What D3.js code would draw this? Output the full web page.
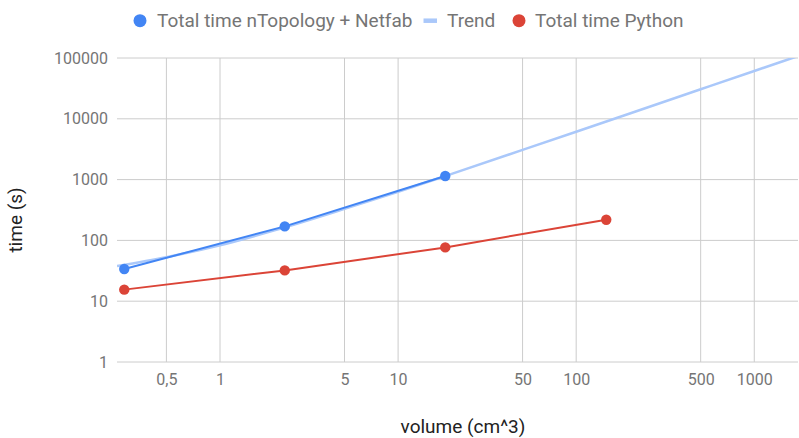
<!DOCTYPE html>
<html>
<head>
<meta charset="utf-8">
<script src="https://cdn.jsdelivr.net/npm/d3@7"></script>
<style>
  body { margin: 0; background: #fff; }
  svg { font-family: Roboto, "Noto Sans", sans-serif; }
</style>
</head>
<body>
<svg id="chart" width="799" height="438"></svg>
<script>
// data
const volumes = [0.29, 2.31, 18.4, 147.5];
const ntopTimes = [33.9, 170, 1146];
const pythonTimes = [15.5, 32.1, 76.7, 219];
// trend curve as it appears (read at a few volumes)
const trendVolumes = [0.264, 0.5, 1, 2, 5, 10, 20, 50, 100, 200, 500, 1000, 1760];
const trendTimes = [38, 53, 83, 145, 330, 630, 1245, 3080, 6130, 12240, 30570, 61100, 107500];
const xTicks = [0.5, 1, 5, 10, 50, 100, 500, 1000];
const yTicks = [1, 10, 100, 1000, 10000, 100000];
const seriesNames = ["Total time nTopology + Netfab", "Trend", "Total time Python"];

const svg = d3.select("#chart");
const margin = { top: 58, right: 1, bottom: 76, left: 117 };
const width = +svg.attr("width") - margin.left - margin.right;
const height = +svg.attr("height") - margin.top - margin.bottom;

const blue = "#4285f4", red = "#db4437", trendColor = "#aac8fa";

// Scales
const x = d3.scaleLog().domain([0.264, 1760]).range([0, width]);
const y = d3.scaleLog().domain([1, 100000]).range([height, 0]);

const g = svg.append("g").attr("transform", `translate(${margin.left},${margin.top})`);

// Grid
g.append("g").selectAll("line").data(xTicks).enter().append("line")
  .attr("x1", d => x(d)).attr("x2", d => x(d))
  .attr("y1", 0).attr("y2", height)
  .attr("stroke", "#cccccc").attr("stroke-width", 1);
g.append("g").selectAll("line").data(yTicks).enter().append("line")
  .attr("x1", 0).attr("x2", width)
  .attr("y1", d => y(d)).attr("y2", d => y(d))
  .attr("stroke", "#cccccc").attr("stroke-width", 1);

// Axes (labels only)
const fmt = d => String(d).replace(".", ",");
const xAxis = g.append("g").attr("transform", `translate(0,${height})`)
  .call(d3.axisBottom(x).tickValues(xTicks).tickFormat(fmt).tickSize(0).tickPadding(12));
const yAxis = g.append("g")
  .call(d3.axisLeft(y).tickValues(yTicks).tickFormat(d => String(d)).tickSize(0).tickPadding(9));
[xAxis, yAxis].forEach(a => {
  a.select(".domain").remove();
  a.selectAll("text").attr("fill", "#757575").style("font-size", "16px").style("font-family", "Roboto");
});

// Clip
svg.append("clipPath").attr("id", "clip").append("rect")
  .attr("width", width).attr("height", height);

// Trend line
const line = d3.line().x(d => x(d[0])).y(d => y(d[1]));
g.append("path")
  .datum(trendVolumes.map((v, i) => [v, trendTimes[i]]))
  .attr("clip-path", "url(#clip)")
  .attr("d", line.curve(d3.curveMonotoneX))
  .attr("fill", "none").attr("stroke", trendColor).attr("stroke-width", 2.5);
line.curve(d3.curveLinear);

// Series
const series = [
  { data: ntopTimes.map((t, i) => [volumes[i], t]), color: blue },
  { data: pythonTimes.map((t, i) => [volumes[i], t]), color: red }
];
series.forEach(s => {
  g.append("path").datum(s.data).attr("d", line)
    .attr("fill", "none").attr("stroke", s.color).attr("stroke-width", 2);
  g.append("g").selectAll("circle").data(s.data).enter().append("circle")
    .attr("cx", d => x(d[0])).attr("cy", d => y(d[1])).attr("r", 5.2)
    .attr("fill", s.color);
});

// Axis titles
svg.append("text")
  .attr("x", 463).attr("y", 433)
  .attr("text-anchor", "middle").attr("fill", "#222")
  .style("font-size", "19px")
  .text("volume (cm^3)");
svg.append("text")
  .attr("transform", "translate(22,220) rotate(-90)")
  .attr("text-anchor", "middle").attr("fill", "#222")
  .style("font-size", "19px")
  .text("time (s)");

// Legend
const legend = svg.append("g").attr("transform", "translate(0,20.7)");
legend.append("circle").attr("cx", 140).attr("cy", 0).attr("r", 6.5).attr("fill", blue);
legend.append("text").attr("x", 157).attr("y", 6).attr("fill", "#757575")
  .style("font-size", "19px").text(seriesNames[0]);
legend.append("line").attr("x1", 423.5).attr("x2", 437).attr("y1", 0).attr("y2", 0)
  .attr("stroke", trendColor).attr("stroke-width", 4.5);
legend.append("text").attr("x", 447).attr("y", 6).attr("fill", "#757575")
  .style("font-size", "19px").text(seriesNames[1]);
legend.append("circle").attr("cx", 519).attr("cy", 0).attr("r", 6.5).attr("fill", red);
legend.append("text").attr("x", 535).attr("y", 6).attr("fill", "#757575")
  .style("font-size", "19px").text(seriesNames[2]);
</script>
</body>
</html>
